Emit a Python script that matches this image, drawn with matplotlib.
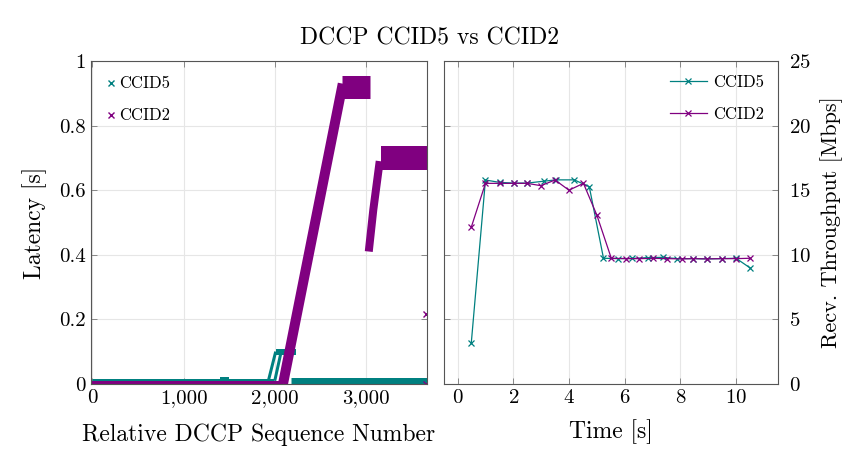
import matplotlib
matplotlib.use("Agg")
import matplotlib.pyplot as plt
from matplotlib.lines import Line2D

plt.rcParams['font.family'] = ['cmr10', 'DejaVu Serif']
plt.rcParams['mathtext.fontset'] = 'cm'
plt.rcParams['axes.formatter.use_mathtext'] = True

TEAL = '#008080'
PURPLE = '#800080'

# ---- left: latency per packet (bands) ----
c5_base_seq = [0, 1990]
c5_base_lat = [0.008, 0.008]
c5_bump_seq = [1400, 1500]
c5_bump_lat = [0.016, 0.016]
c5_rise1_seq = [1930, 2010]
c5_rise1_lat = [0.01, 0.10]
c5_rise2_seq = [2000, 2070]
c5_rise2_lat = [0.01, 0.10]
c5_step_seq = [2010, 2230]
c5_step_lat = [0.10, 0.10]
c5_tail_seq = [2175, 3665]
c5_tail_lat = [0.010, 0.010]

c2_base_seq = [0, 2090]
c2_base_lat = [0.0, 0.0]
c2_ramp_seq = [2090, 2745]
c2_ramp_lat = [0.0, 0.93]
c2_top_seq = [2735, 3040]
c2_top_lat = [0.92, 0.92]
c2_rise_seq = [3030, 3080, 3150]
c2_rise_lat = [0.41, 0.54, 0.69]
c2_flat_seq = [3165, 3665]
c2_flat_lat = [0.70, 0.70]
c2_out_seq = [3660, 3660]
c2_out_lat = [0.215, 0.0]

# ---- right: received throughput ----
t5 = [0.49, 1.0, 1.52, 2.02, 2.5, 3.11, 3.53, 4.19, 4.73, 5.24, 5.76, 6.28,
      6.84, 7.38, 7.89, 8.47, 8.95, 9.49, 10.0, 10.52]
thr5 = [3.15, 15.79, 15.6, 15.55, 15.55, 15.7, 15.8, 15.8, 15.27, 9.73, 9.7,
        9.72, 9.78, 9.8, 9.7, 9.7, 9.68, 9.7, 9.73, 8.96]
t2 = [0.49, 1.0, 1.52, 2.02, 2.5, 2.99, 3.5, 4.0, 4.52, 5.0, 5.52, 6.04, 6.52,
      7.02, 7.53, 8.05, 8.47, 8.95, 9.49, 10.0, 10.52]
thr2 = [12.13, 15.53, 15.53, 15.53, 15.53, 15.35, 15.79, 15.0, 15.53, 13.08,
        9.73, 9.7, 9.7, 9.72, 9.7, 9.68, 9.7, 9.68, 9.7, 9.7, 9.73]

fig = plt.figure(figsize=(8.5, 4.49), dpi=100)
ax1 = fig.add_axes([0.107, 0.145, 0.395, 0.719])
ax2 = fig.add_axes([0.522, 0.145, 0.393, 0.719])

def px(p):
    return p * 72 / 100.0

band = dict(solid_capstyle='butt', linestyle='-')
ax1.plot(c5_base_seq, c5_base_lat, color=TEAL, lw=px(5), **band)
ax1.plot(c5_bump_seq, c5_bump_lat, color=TEAL, lw=px(4), **band)
ax1.plot(c5_rise1_seq, c5_rise1_lat, color=TEAL, lw=px(3), **band)
ax1.plot(c5_rise2_seq, c5_rise2_lat, color=TEAL, lw=px(3), **band)
ax1.plot(c5_step_seq, c5_step_lat, color=TEAL, lw=px(6), **band)
ax1.plot(c5_tail_seq, c5_tail_lat, color=TEAL, lw=px(7), **band)

ax1.plot(c2_base_seq, c2_base_lat, color=PURPLE, lw=px(6), **band)
ax1.plot(c2_ramp_seq, c2_ramp_lat, color=PURPLE, lw=px(10), **band)
ax1.plot(c2_top_seq, c2_top_lat, color=PURPLE, lw=px(23), **band)
ax1.plot(c2_rise_seq, c2_rise_lat, color=PURPLE, lw=px(8), **band)
ax1.plot(c2_flat_seq, c2_flat_lat, color=PURPLE, lw=px(24), **band)
ax1.plot(c2_out_seq, c2_out_lat, color=PURPLE, marker='x', ms=5, mew=1, ls='none')

ax1.set_xlim(-15, 3665)
ax1.set_ylim(0, 1)
ax1.set_xticks([0, 1000, 2000, 3000])
ax1.set_xticklabels(['0', '1,000', '2,000', '3,000'])
ax1.set_yticks([0, 0.2, 0.4, 0.6, 0.8, 1])
ax1.set_yticklabels(['0', '0.2', '0.4', '0.6', '0.8', '1'])
ax1.set_xlabel('Relative DCCP Sequence Number', fontsize=17, labelpad=12)
ax1.set_ylabel('Latency [s]', fontsize=17, labelpad=9)

h5 = Line2D([], [], color=TEAL, marker='x', ls='none', ms=4, mew=1)
h2 = Line2D([], [], color=PURPLE, marker='x', ls='none', ms=4, mew=1)
ax1.legend([h5, h2], ['CCID5', 'CCID2'], loc='upper left', fontsize=12,
           frameon=False, handlelength=0.6, handletextpad=0.2,
           labelspacing=1.0, borderaxespad=0.5)

ax2.plot(t5, thr5, color=TEAL, lw=0.9, marker='x', ms=4, mew=0.9, label='CCID5')
ax2.plot(t2, thr2, color=PURPLE, lw=0.9, marker='x', ms=4, mew=0.9, label='CCID2')
ax2.set_xlim(-0.5, 11.5)
ax2.set_ylim(0, 25)
ax2.set_xticks([0, 2, 4, 6, 8, 10])
ax2.set_yticks([0, 5, 10, 15, 20, 25])
ax2.yaxis.tick_right()
ax2.yaxis.set_label_position('right')
ax2.set_xlabel('Time [s]', fontsize=17, labelpad=9)
ax2.set_ylabel('Recv. Throughput [Mbps]', fontsize=16, labelpad=7)
ax2.legend(loc='upper right', fontsize=12, frameon=False, handlelength=2.2,
           handletextpad=0.4, labelspacing=1.0, borderaxespad=0.4)

for ax in (ax1, ax2):
    ax.grid(True, color='#e6e6e6', lw=0.8)
    ax.set_axisbelow(True)
    ax.tick_params(direction='in', length=4, width=0.6, color='#777777',
                   labelsize=15, top=True, bottom=True, left=True, right=True)
    for s in ax.spines.values():
        s.set_color('#555555')
        s.set_linewidth(0.8)
ax2.tick_params(labelleft=False, labelright=True)
ax2.tick_params(axis='y', pad=8)

fig.suptitle('DCCP CCID5 vs CCID2', x=0.505, y=0.94, fontsize=17)

fig.savefig('out.png', dpi=100)
